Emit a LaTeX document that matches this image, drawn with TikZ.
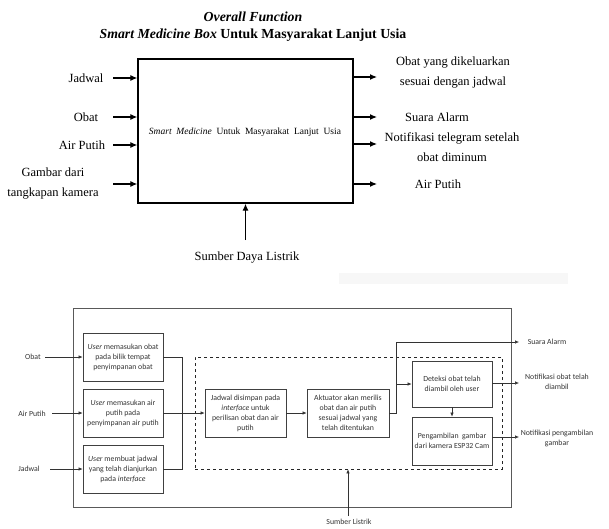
\documentclass[tikz,border=0pt]{standalone}
\usepackage{fontspec}
\setmainfont{Liberation Serif}
\newfontfamily\calib{Carlito}
\usetikzlibrary{arrows.meta}
\begin{document}
\begin{tikzpicture}[x=1pt,y=-1pt,
  big/.style={font=\fontsize{12.5}{20}\selectfont, align=center, inner sep=0pt},
  topar/.style={-{Latex[length=7pt,width=6pt]}, line width=1.2pt},
  sm/.style={font=\calib\fontsize{7.8}{10}\selectfont, align=center, inner sep=0pt, text=black!80},
  bx/.style={draw=black!75, line width=0.75pt, minimum width=80pt, minimum height=48pt, inner sep=1pt, align=center, font=\calib\fontsize{7.8}{10}\selectfont, text=black!80},
  ar/.style={-{Latex[length=4pt,width=3.5pt]}, line width=0.6pt, draw=black!80}
]
\useasboundingbox (0,0) rectangle (609,528);
% ---------- top ----------
\node[big, font=\fontsize{13.8}{15}\bfseries\itshape\selectfont] (t1) at (253,17) {Overall Function};
\node[big, font=\fontsize{13.8}{15}\bfseries\selectfont] (t2) at (253,35) {\textit{Smart Medicine Box} Untuk Masyarakat Lanjut Usia};
\node[draw, line width=1.3pt, minimum width=215pt, minimum height=144pt, inner sep=0pt] (M) at (245.5,131) {};
\node[inner sep=0pt, font=\fontsize{9.5}{11}\selectfont] (mt) at (245,132) {\textit{Smart\ \ Medicine}\ \ Untuk\ \ Masyarakat\ \ Lanjut\ \ Usia};
% inputs
\node[big] (jad) at (86,78) {Jadwal};
\node[big] (obt) at (86,117) {Obat};
\node[big] (air) at (82,145) {Air Putih};
\node[big] (gam) at (53,184) {Gambar dari\\tangkapan kamera};
\coordinate (ija) at (113,78);
\coordinate (iob) at (113,117);
\coordinate (iai) at (113,145);
\coordinate (iga) at (113,184);
\draw[topar] (ija) -- (ija -| M.west);
\draw[topar] (iob) -- (iob -| M.west);
\draw[topar] (iai) -- (iai -| M.west);
\draw[topar] (iga) -- (iga -| M.west);
% outputs
\coordinate (o1) at (377,77);
\coordinate (o2) at (377,117);
\coordinate (o3) at (377,144);
\coordinate (o4) at (377,184);
\draw[topar] (o1 -| M.east) -- (o1);
\draw[topar] (o2 -| M.east) -- (o2);
\draw[topar] (o3 -| M.east) -- (o3);
\draw[topar] (o4 -| M.east) -- (o4);
\node[big] (r1) at (453,72.5) {Obat yang dikeluarkan\\sesuai dengan jadwal};
\node[big] (r2) at (437,117) {Suara Alarm};
\node[big] (r3) at (452,147) {Notifikasi telegram setelah\\obat diminum};
\node[big] (r4) at (438,184) {Air Putih};
% power
\coordinate (pw) at (245.5,240);
\draw[topar] (pw) -- (M.south);
\node[big] (sdl) at (247,258) {Sumber Daya Listrik};
% faint band
\fill[black!3] (339,273) rectangle (568,284);
% ---------- bottom ----------
\node[draw=black!65, line width=0.8pt, minimum width=438pt, minimum height=199pt, inner sep=0pt] (outer) at (292,407.5) {};
\node[draw=black!85, dashed, line width=0.7pt, minimum width=307pt, minimum height=112pt, inner sep=0pt] (dsh) at (348.5,413) {};
\node[bx] (b1) at (123,357) {\textit{User} memasukan obat\\pada bilik tempat\\penyimpanan obat};
\node[bx] (b2) at (123,413) {\textit{User} memasukan air\\putih pada\\penyimpanan air putih};
\node[bx] (b3) at (123,469) {\textit{User} membuat jadwal\\yang telah dianjurkan\\pada \textit{interface}};
\node[bx, minimum width=81pt] (jb) at (245.5,413) {Jadwal disimpan pada\\\textit{interface} untuk\\perilisan obat dan air\\putih};
\node[bx, minimum width=82pt] (ak) at (348,413) {Aktuator akan merilis\\obat dan air putih\\sesuai jadwal yang\\telah ditentukan};
\node[bx, minimum height=46pt] (de) at (452,384) {Deteksi obat telah\\diambil oleh user};
\node[bx] (pg) at (452,441) {Pengambilan\ \ gambar\\dari kamera ESP32 Cam};
% left labels
\node[sm] (lob) at (33,357) {Obat};
\node[sm] (lai) at (32,414) {Air Putih};
\node[sm] (lja) at (29,469) {Jadwal};
\coordinate (s1) at (45,357);
\coordinate (s2) at (52,413);
\coordinate (s3) at (50,469);
\draw[ar] (s1) -- (b1.west);
\draw[ar] (s2) -- (b2.west);
\draw[ar] (s3) -- (b3.west);
% merges
\coordinate (jn) at (182,413);
\draw[ar, -] (b1.east) -| (jn);
\draw[ar, -] (b3.east) -| (jn);
\draw[ar] (b2.east) -- (jb.west);
\draw[ar] (jb) -- (ak);
\coordinate (sp) at (396,384);
\draw[ar, -] (ak.east) -| (sp);
\draw[ar] (sp) -- (de.west);
\coordinate (al) at (519,342);
\draw[ar] (sp) |- (al);
\draw[ar] (de) -- (pg);
\coordinate (nd) at (519,383);
\coordinate (np) at (519,437);
\draw[ar] (nd -| de.east) -- (nd);
\draw[ar] (np -| pg.east) -- (np);
% right labels
\node[sm] (lal) at (547,342) {Suara Alarm};
\node[sm] (lnd) at (557,382) {Notifikasi obat telah\\diambil};
\node[sm] (lnp) at (557,438) {Notifikasi pengambilan\\gambar};
% power
\coordinate (sl) at (348,516);
\draw[ar] (sl) -- (sl |- dsh.south);
\node[sm] (lsl) at (349,522) {Sumber Listrik};
\end{tikzpicture}
\end{document}
